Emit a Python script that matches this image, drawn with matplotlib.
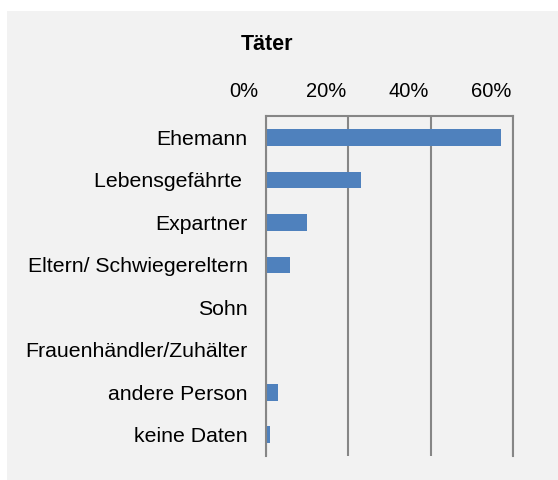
import matplotlib.pyplot as plt
import matplotlib.transforms as mtransforms
from matplotlib.patches import Rectangle
import numpy as np

# Daten
kategorien = ["Ehemann", "Lebensgefährte ", "Expartner", "Eltern/ Schwiegereltern",
              "Sohn", "Frauenhändler/Zuhälter", "andere Person", "keine Daten"]
anteile = [57, 23, 10, 6, 0, 0, 3, 1]
ticks = [0, 20, 40, 60]
tick_labels = ["0%", "20%", "40%", "60%"]

plt.rcParams['font.family'] = ['Liberation Sans', 'DejaVu Sans']
grau = "#868686"

fig = plt.figure(figsize=(5.58, 4.8), dpi=100, facecolor="white")
fig.patches.append(Rectangle((7 / 558, 0), 1, 1 - 11 / 480, transform=fig.transFigure,
                             facecolor="#f2f2f2", edgecolor="none", zorder=-10))

ax = fig.add_axes([0.476, 0.05, 0.444, 0.708])
ax.set_facecolor("none")

y = np.arange(len(kategorien))
ax.barh(y, anteile, height=0.39, color="#4f81bd", zorder=2)
ax.set_ylim(len(kategorien) - 0.5, -0.5)
ax.set_xlim(0, 60)

ax.set_yticks(y)
ax.set_yticklabels(kategorien, fontsize=15.3)
ax.xaxis.tick_top()
ax.set_xticks(ticks)
ax.set_xticklabels(tick_labels, fontsize=14.5)
ax.tick_params(axis="both", length=0)
ax.tick_params(axis="y", pad=13)
ax.tick_params(axis="x", pad=11)

# Beschriftungen der x-Achse leicht nach links versetzt wie im Original
versatz = mtransforms.ScaledTranslation(-22 / 100, 0, fig.dpi_scale_trans)
for lbl in ax.get_xticklabels():
    lbl.set_transform(lbl.get_transform() + versatz)

ax.grid(axis="x", color=grau, linewidth=1.5)
ax.set_axisbelow(True)
for s in ["left", "right", "top"]:
    ax.spines[s].set_color(grau)
    ax.spines[s].set_linewidth(1.5)
ax.spines["bottom"].set_visible(False)

fig.text(267 / 558, 1 - 44 / 480, "Täter", fontsize=15.5, fontweight="bold",
         ha="center", va="center")

fig.savefig("out.png", dpi=100)
